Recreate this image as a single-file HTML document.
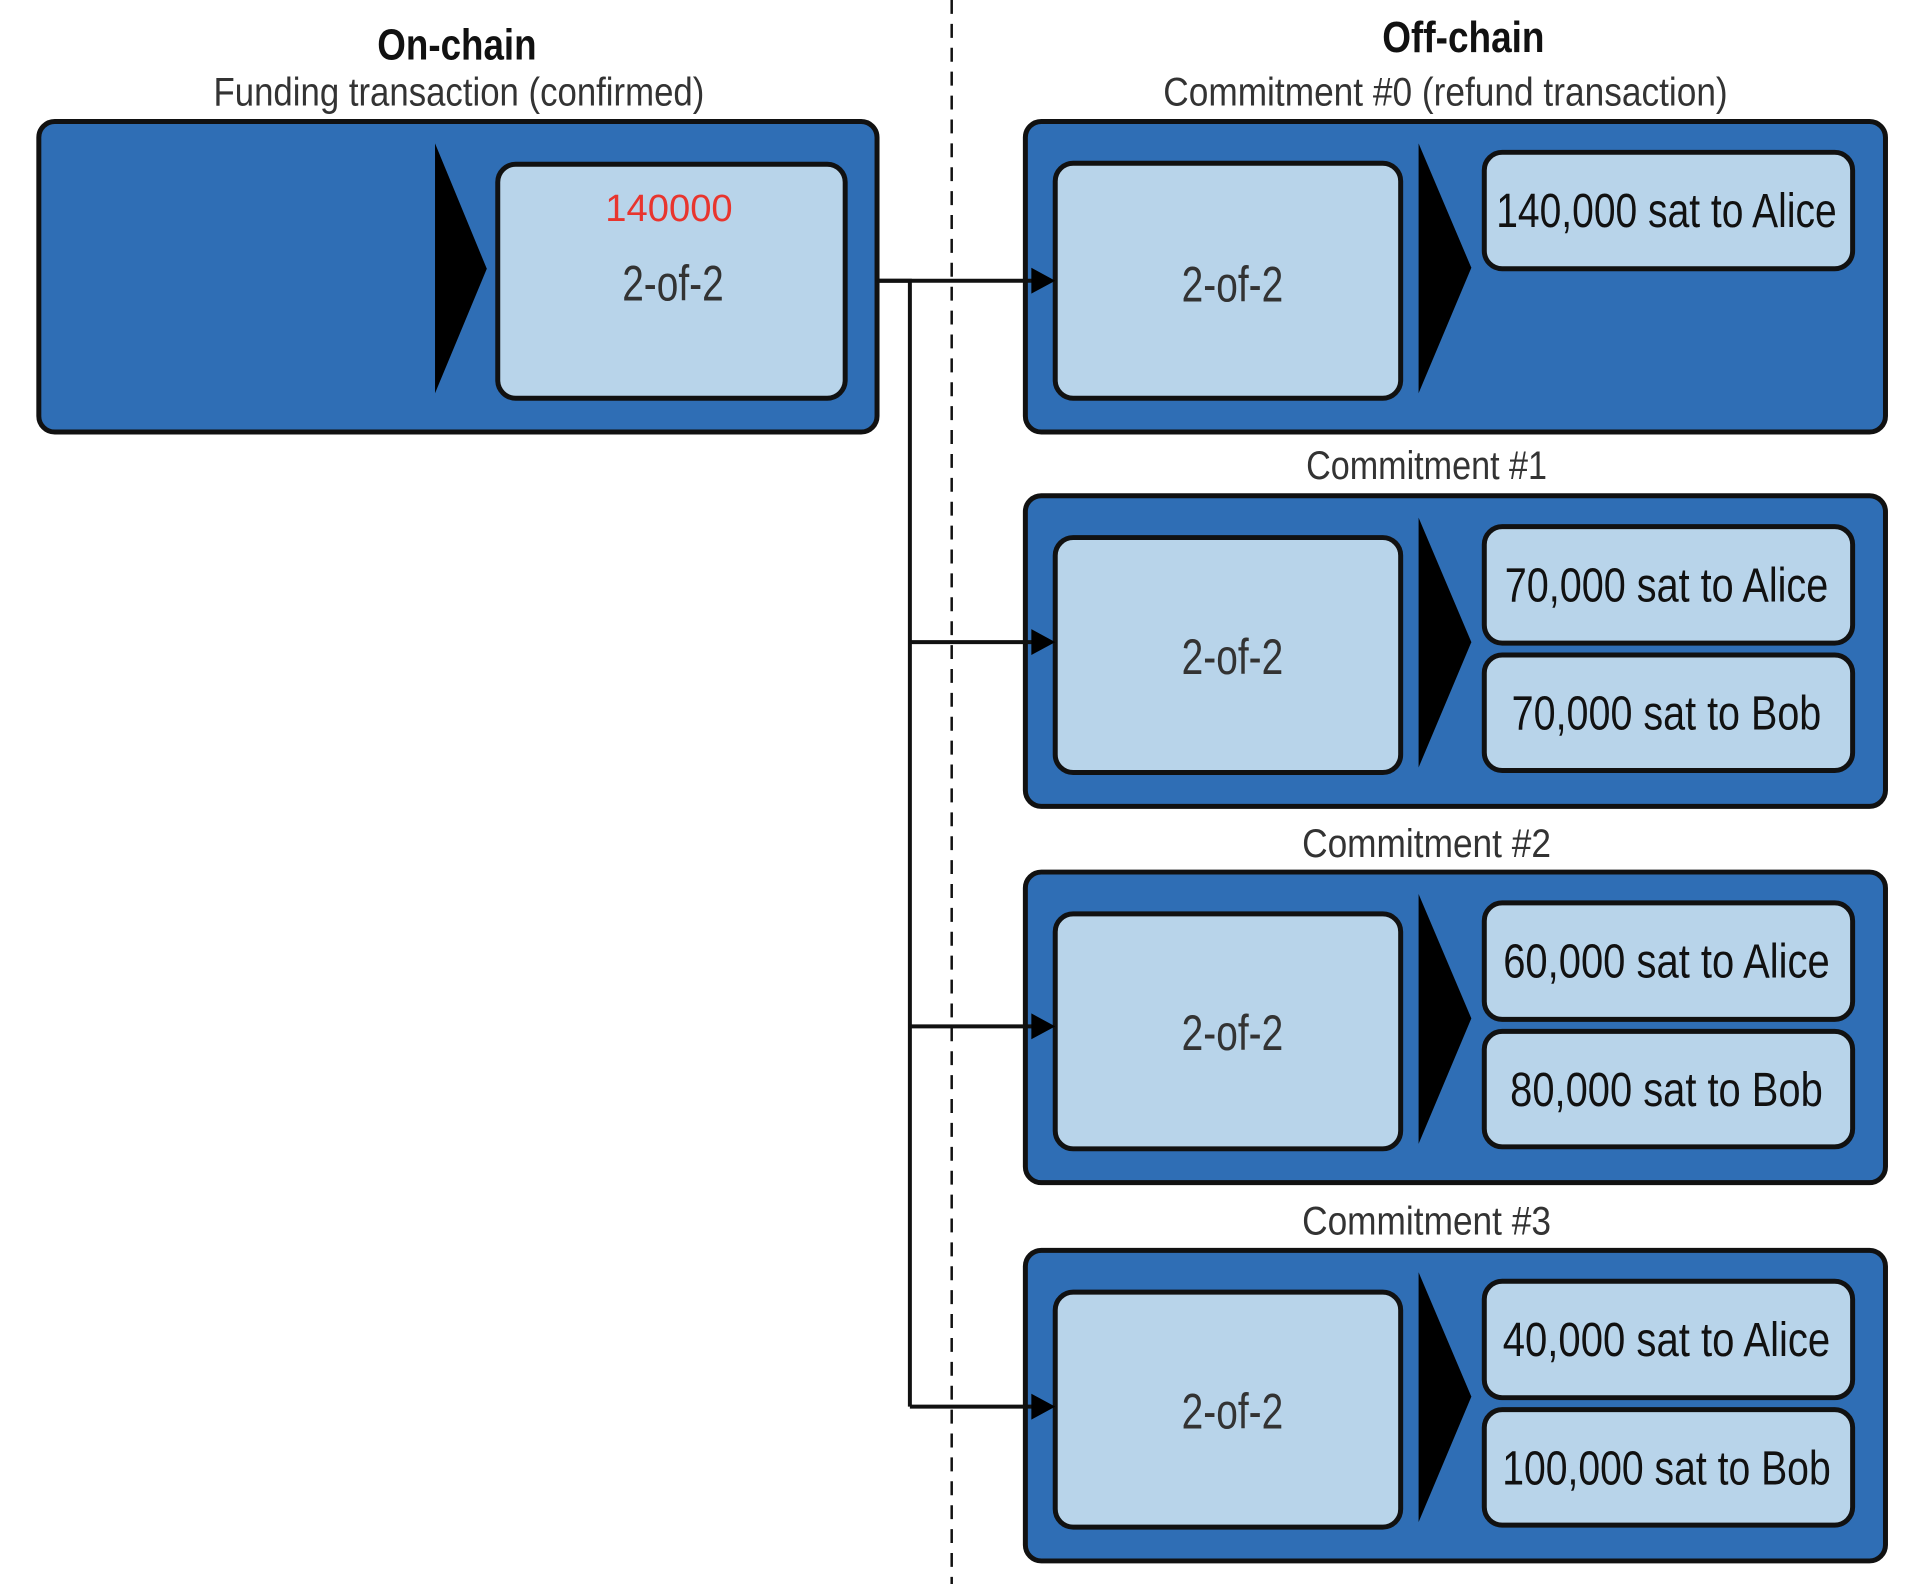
<!DOCTYPE html>
<html><head><meta charset="utf-8"><style>
html,body{margin:0;padding:0;background:#fff;}
svg{display:block;}
text{font-family:"Liberation Sans Narrow","Liberation Sans",sans-serif;}
</style></head><body>
<svg width="1908" height="1584" viewBox="0 0 1908 1584" xmlns="http://www.w3.org/2000/svg">
<g transform="scale(0.9955)">
<line x1="956" y1="0" x2="956" y2="1592" stroke="#111" stroke-width="2.5" stroke-dasharray="14,10"/>
<text x="459" y="60" font-size="44" font-weight="bold" text-anchor="middle" fill="#111" textLength="160" lengthAdjust="spacingAndGlyphs">On-chain</text>
<text x="461" y="106" font-size="40" text-anchor="middle" fill="#333" textLength="493" lengthAdjust="spacingAndGlyphs">Funding transaction (confirmed)</text>
<text x="1470" y="52" font-size="44" font-weight="bold" text-anchor="middle" fill="#111" textLength="163" lengthAdjust="spacingAndGlyphs">Off-chain</text>
<text x="1452" y="106" font-size="40" text-anchor="middle" fill="#333" textLength="567" lengthAdjust="spacingAndGlyphs">Commitment #0 (refund transaction)</text>

<rect x="39" y="122" width="842" height="312" rx="16" fill="#2f6eb5" stroke="#111" stroke-width="5"/>
<polygon points="437,144 489,270 437,395" fill="#000"/>
<rect x="500" y="165" width="349" height="235" rx="18" fill="#b8d4ea" stroke="#111" stroke-width="5"/>
<text x="672" y="222" font-size="38" text-anchor="middle" fill="#e8352e" textLength="128" lengthAdjust="spacingAndGlyphs">140000</text>
<text x="676" y="302" font-size="50" text-anchor="middle" fill="#333" textLength="102" lengthAdjust="spacingAndGlyphs">2-of-2</text>

<text x="1433" y="481" font-size="40" text-anchor="middle" fill="#333" textLength="242" lengthAdjust="spacingAndGlyphs">Commitment #1</text>
<text x="1433" y="861" font-size="40" text-anchor="middle" fill="#333" textLength="250" lengthAdjust="spacingAndGlyphs">Commitment #2</text>
<text x="1433" y="1240" font-size="40" text-anchor="middle" fill="#333" textLength="250" lengthAdjust="spacingAndGlyphs">Commitment #3</text>

<g transform="translate(0,122)">
<rect x="1030" y="0" width="864" height="312" rx="16" fill="#2f6eb5" stroke="#111" stroke-width="5"/>
<rect x="1060" y="42" width="347" height="236" rx="18" fill="#b8d4ea" stroke="#111" stroke-width="5"/>
<polygon points="1425,22 1478,147 1425,273" fill="#000"/>
<text x="1238" y="181" font-size="50" text-anchor="middle" fill="#333" textLength="102" lengthAdjust="spacingAndGlyphs">2-of-2</text>
<rect x="1491" y="31" width="370" height="117" rx="18" fill="#b8d4ea" stroke="#111" stroke-width="5"/>
<text x="1674" y="106" font-size="48" text-anchor="middle" fill="#111" textLength="342" lengthAdjust="spacingAndGlyphs">140,000 sat to Alice</text>
</g>
<g transform="translate(0,498)">
<rect x="1030" y="0" width="864" height="312" rx="16" fill="#2f6eb5" stroke="#111" stroke-width="5"/>
<rect x="1060" y="42" width="347" height="236" rx="18" fill="#b8d4ea" stroke="#111" stroke-width="5"/>
<polygon points="1425,22 1478,147 1425,273" fill="#000"/>
<text x="1238" y="179" font-size="50" text-anchor="middle" fill="#333" textLength="102" lengthAdjust="spacingAndGlyphs">2-of-2</text>
<rect x="1491" y="31" width="370" height="117" rx="18" fill="#b8d4ea" stroke="#111" stroke-width="5"/>
<text x="1674" y="106" font-size="48" text-anchor="middle" fill="#111" textLength="325" lengthAdjust="spacingAndGlyphs">70,000 sat to Alice</text>
<rect x="1491" y="160" width="370" height="116" rx="18" fill="#b8d4ea" stroke="#111" stroke-width="5"/>
<text x="1674" y="235" font-size="48" text-anchor="middle" fill="#111" textLength="311" lengthAdjust="spacingAndGlyphs">70,000 sat to Bob</text>
</g>
<g transform="translate(0,876)">
<rect x="1030" y="0" width="864" height="312" rx="16" fill="#2f6eb5" stroke="#111" stroke-width="5"/>
<rect x="1060" y="42" width="347" height="236" rx="18" fill="#b8d4ea" stroke="#111" stroke-width="5"/>
<polygon points="1425,22 1478,147 1425,273" fill="#000"/>
<text x="1238" y="179" font-size="50" text-anchor="middle" fill="#333" textLength="102" lengthAdjust="spacingAndGlyphs">2-of-2</text>
<rect x="1491" y="31" width="370" height="117" rx="18" fill="#b8d4ea" stroke="#111" stroke-width="5"/>
<text x="1674" y="106" font-size="48" text-anchor="middle" fill="#111" textLength="328" lengthAdjust="spacingAndGlyphs">60,000 sat to Alice</text>
<rect x="1491" y="160" width="370" height="116" rx="18" fill="#b8d4ea" stroke="#111" stroke-width="5"/>
<text x="1674" y="235" font-size="48" text-anchor="middle" fill="#111" textLength="314" lengthAdjust="spacingAndGlyphs">80,000 sat to Bob</text>
</g>
<g transform="translate(0,1256)">
<rect x="1030" y="0" width="864" height="312" rx="16" fill="#2f6eb5" stroke="#111" stroke-width="5"/>
<rect x="1060" y="42" width="347" height="236" rx="18" fill="#b8d4ea" stroke="#111" stroke-width="5"/>
<polygon points="1425,22 1478,147 1425,273" fill="#000"/>
<text x="1238" y="179" font-size="50" text-anchor="middle" fill="#333" textLength="102" lengthAdjust="spacingAndGlyphs">2-of-2</text>
<rect x="1491" y="31" width="370" height="117" rx="18" fill="#b8d4ea" stroke="#111" stroke-width="5"/>
<text x="1674" y="106" font-size="48" text-anchor="middle" fill="#111" textLength="329" lengthAdjust="spacingAndGlyphs">40,000 sat to Alice</text>
<rect x="1491" y="160" width="370" height="116" rx="18" fill="#b8d4ea" stroke="#111" stroke-width="5"/>
<text x="1674" y="235" font-size="48" text-anchor="middle" fill="#111" textLength="330" lengthAdjust="spacingAndGlyphs">100,000 sat to Bob</text>
</g>

<g stroke="#111" stroke-width="4" fill="none">
<polyline points="881,282 914,282 914,1413"/>
<line x1="881" y1="282" x2="1045" y2="282"/>
<line x1="914" y1="645" x2="1045" y2="645"/>
<line x1="914" y1="1031" x2="1045" y2="1031"/>
<line x1="914" y1="1413" x2="1045" y2="1413"/>
</g>
<g fill="#000">
<polygon points="1036,269 1060,282 1036,295"/>
<polygon points="1036,632 1060,645 1036,658"/>
<polygon points="1036,1018 1060,1031 1036,1044"/>
<polygon points="1036,1400 1060,1413 1036,1426"/>
</g>
</g>
</svg>
</body></html>
